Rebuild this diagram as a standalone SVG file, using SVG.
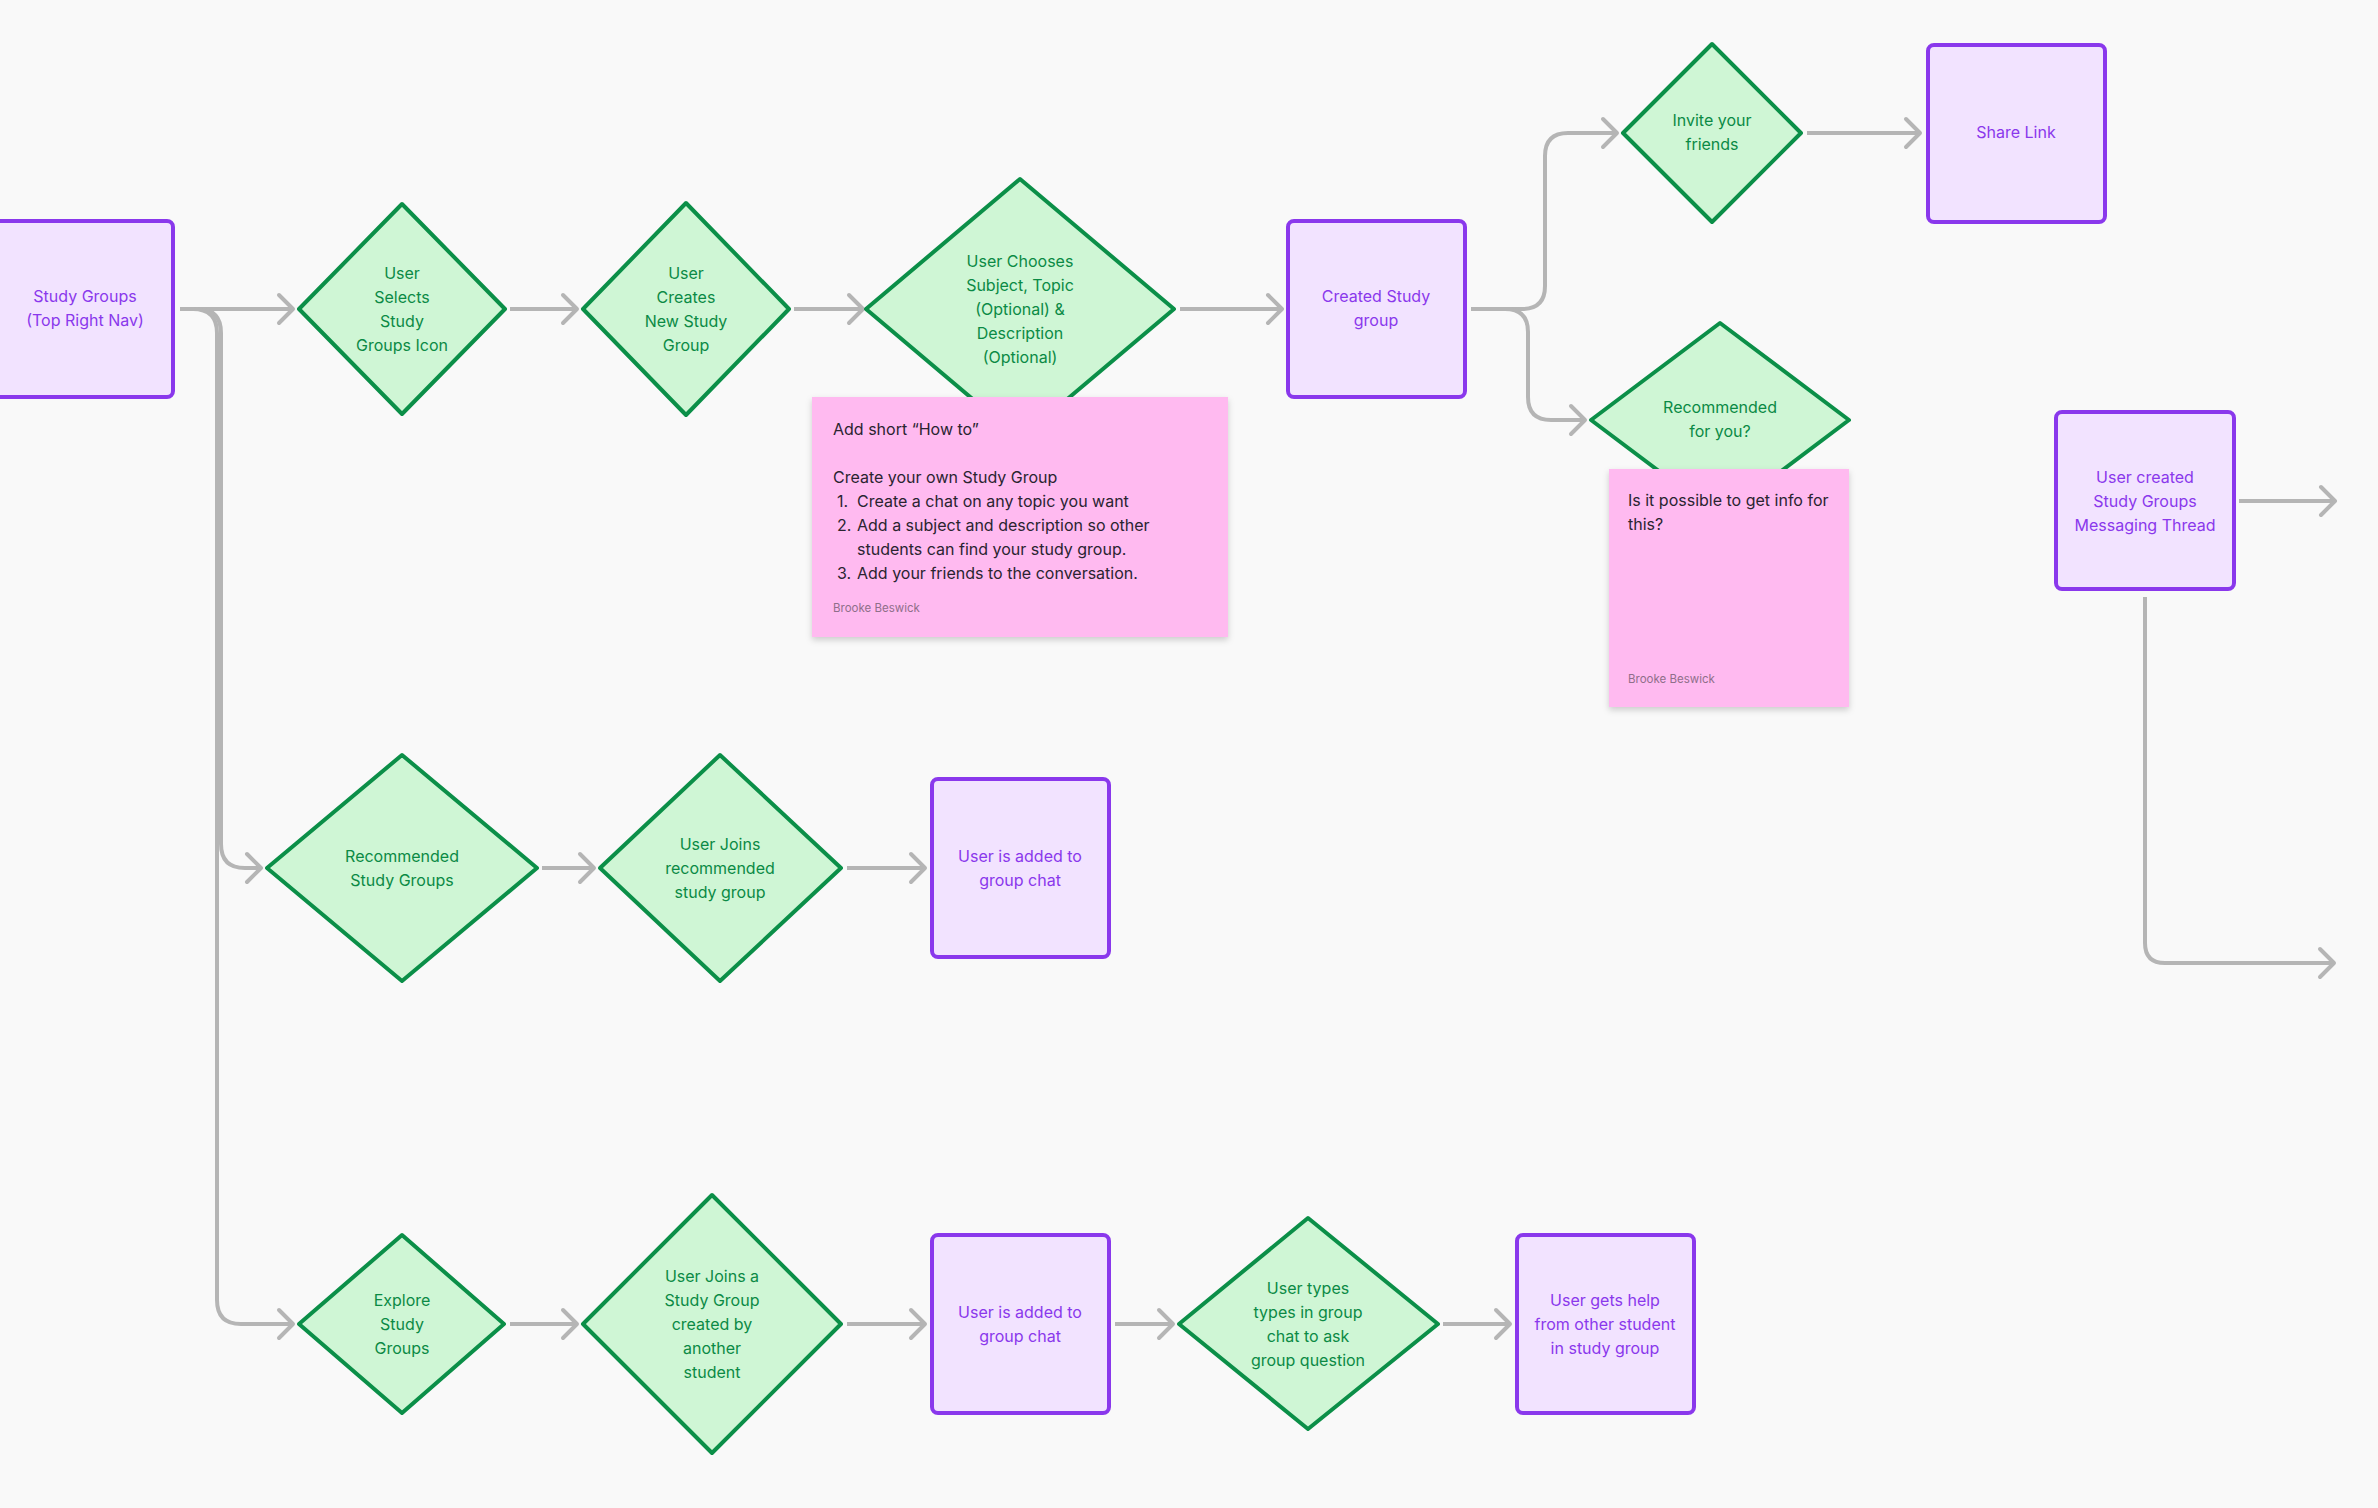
<svg xmlns="http://www.w3.org/2000/svg" width="2378" height="1508" viewBox="0 0 2378 1508">
<defs>
<style>
.bg{fill:#f9f9f9}
.box{fill:#f2e3ff;stroke:#8a38ec;stroke-width:4}
.dia{fill:#cff6d5;stroke:#0b8f48;stroke-width:4;stroke-linejoin:round}
.tp{font-family:Inter,"Noto Sans","Liberation Sans",sans-serif;font-size:16px;fill:#8a38ec;text-anchor:middle;dominant-baseline:central}
.tg{font-family:Inter,"Noto Sans","Liberation Sans",sans-serif;font-size:16px;fill:#0b8a45;text-anchor:middle;dominant-baseline:central}
.st{fill:#ffbaf0}
.sn{font-family:Inter,"Noto Sans","Liberation Sans",sans-serif;font-size:16px;fill:#2a2430;dominant-baseline:central}
.au{font-family:Inter,"Noto Sans","Liberation Sans",sans-serif;font-size:11.5px;fill:#8f6f8a;dominant-baseline:central}
.con path{fill:none;stroke:#b5b5b5;stroke-width:4;marker-end:url(#arr)}
</style>
<marker id="arr" markerUnits="userSpaceOnUse" viewBox="-20 -20 40 40" markerWidth="40" markerHeight="40" refX="0" refY="0" orient="auto">
<path d="M-14,-14 L0,0 L-14,14" fill="none" stroke="#b5b5b5" stroke-width="4" stroke-linecap="round" stroke-linejoin="round"/>
</marker>
<filter id="sh" x="-10%" y="-10%" width="120%" height="130%">
<feDropShadow dx="0" dy="3" stdDeviation="3" flood-color="#000" flood-opacity="0.18"/>
</filter>
</defs>
<rect class="bg" x="0" y="0" width="2378" height="1508"/>

<g id="connectors" class="con">
<path d="M180,309 H293"/>
<path d="M180,309 H197 Q221,309 221,333 V844 Q221,868 245,868 H261"/>
<path d="M180,309 H193 Q217,309 217,333 V1300 Q217,1324 241,1324 H293"/>
<path d="M510,309 H577"/>
<path d="M794,309 H863"/>
<path d="M1180,309 H1282"/>
<path d="M1471,309 H1522 Q1545,309 1545,286 V156 Q1545,133 1568,133 H1617"/>
<path d="M1471,309 H1505 Q1528,309 1528,332 V397 Q1528,420 1551,420 H1585"/>
<path d="M1807,133 H1920"/>
<path d="M2239,501 H2335"/>
<path d="M2145,597 V943 Q2145,963 2165,963 H2334"/>
<path d="M542,868 H594"/>
<path d="M847,868 H925"/>
<path d="M510,1324 H577"/>
<path d="M847,1324 H925"/>
<path d="M1115,1324 H1173"/>
<path d="M1443,1324 H1510"/>
</g>

<g id="n-study-groups">
<rect class="box" x="-12" y="221" width="185" height="176" rx="6"/>
<text class="tp"><tspan x="85" y="296">Study Groups</tspan><tspan x="85" y="320">(Top Right Nav)</tspan></text>
</g>

<g id="n-selects">
<polygon class="dia" points="402,204 505,309 402,414 299,309"/>
<text class="tg"><tspan x="402" y="273">User</tspan><tspan x="402" y="297">Selects</tspan><tspan x="402" y="321">Study</tspan><tspan x="402" y="345">Groups Icon</tspan></text>
</g>

<g id="n-creates">
<polygon class="dia" points="686,203 789,309 686,415 583,309"/>
<text class="tg"><tspan x="686" y="273">User</tspan><tspan x="686" y="297">Creates</tspan><tspan x="686" y="321">New Study</tspan><tspan x="686" y="345">Group</tspan></text>
</g>

<g id="n-chooses">
<polygon class="dia" points="1020,179 1174,309 1020,439 866,309"/>
<text class="tg"><tspan x="1020" y="261">User Chooses</tspan><tspan x="1020" y="285">Subject, Topic</tspan><tspan x="1020" y="309">(Optional) &amp;</tspan><tspan x="1020" y="333">Description</tspan><tspan x="1020" y="357">(Optional)</tspan></text>
</g>

<g id="note-howto">
<rect class="st" x="812" y="397" width="416" height="240" filter="url(#sh)"/>
<text class="sn" x="833" y="429">Add short “How to”</text>
<text class="sn" x="833" y="477">Create your own Study Group</text>
<text class="sn" x="837" y="501">1.</text>
<text class="sn" x="857" y="501">Create a chat on any topic you want</text>
<text class="sn" x="837" y="525">2.</text>
<text class="sn" x="857" y="525">Add a subject and description so other</text>
<text class="sn" x="857" y="549">students can find your study group.</text>
<text class="sn" x="837" y="573">3.</text>
<text class="sn" x="857" y="573">Add your friends to the conversation.</text>
<text class="au" x="833" y="608">Brooke Beswick</text>
</g>

<g id="n-created">
<rect class="box" x="1288" y="221" width="177" height="176" rx="6"/>
<text class="tp"><tspan x="1376" y="296">Created Study</tspan><tspan x="1376" y="320">group</tspan></text>
</g>

<g id="n-invite">
<polygon class="dia" points="1712,44 1801,133 1712,222 1623,133"/>
<text class="tg"><tspan x="1712" y="120">Invite your</tspan><tspan x="1712" y="144">friends</tspan></text>
</g>

<g id="n-share">
<rect class="box" x="1928" y="45" width="177" height="177" rx="6"/>
<text class="tp" x="2016" y="132">Share Link</text>
</g>

<g id="n-recommended-for-you">
<polygon class="dia" points="1720,323 1849,420 1720,517 1591,420"/>
<text class="tg"><tspan x="1720" y="407">Recommended</tspan><tspan x="1720" y="431">for you?</tspan></text>
</g>

<g id="note-info">
<rect class="st" x="1609" y="469" width="240" height="238" filter="url(#sh)"/>
<text class="sn" x="1628" y="500">Is it possible to get info for</text>
<text class="sn" x="1628" y="524">this?</text>
<text class="au" x="1628" y="679">Brooke Beswick</text>
</g>

<g id="n-thread">
<rect class="box" x="2056" y="412" width="178" height="177" rx="6"/>
<text class="tp"><tspan x="2145" y="477">User created</tspan><tspan x="2145" y="501">Study Groups</tspan><tspan x="2145" y="525">Messaging Thread</tspan></text>
</g>

<g id="n-recommended">
<polygon class="dia" points="402,755 537,868 402,981 267,868"/>
<text class="tg"><tspan x="402" y="856">Recommended</tspan><tspan x="402" y="880">Study Groups</tspan></text>
</g>

<g id="n-joins-recommended">
<polygon class="dia" points="720,755 841,868 720,981 600,868"/>
<text class="tg"><tspan x="720" y="844">User Joins</tspan><tspan x="720" y="868">recommended</tspan><tspan x="720" y="892">study group</tspan></text>
</g>

<g id="n-added-1">
<rect class="box" x="932" y="779" width="177" height="178" rx="6"/>
<text class="tp"><tspan x="1020" y="856">User is added to</tspan><tspan x="1020" y="880">group chat</tspan></text>
</g>

<g id="n-explore">
<polygon class="dia" points="402,1235 504,1324 402,1413 299,1324"/>
<text class="tg"><tspan x="402" y="1300">Explore</tspan><tspan x="402" y="1324">Study</tspan><tspan x="402" y="1348">Groups</tspan></text>
</g>

<g id="n-joins-other">
<polygon class="dia" points="712,1195 841,1324 712,1453 583,1324"/>
<text class="tg"><tspan x="712" y="1276">User Joins a</tspan><tspan x="712" y="1300">Study Group</tspan><tspan x="712" y="1324">created by</tspan><tspan x="712" y="1348">another</tspan><tspan x="712" y="1372">student</tspan></text>
</g>

<g id="n-added-2">
<rect class="box" x="932" y="1235" width="177" height="178" rx="6"/>
<text class="tp"><tspan x="1020" y="1312">User is added to</tspan><tspan x="1020" y="1336">group chat</tspan></text>
</g>

<g id="n-types">
<polygon class="dia" points="1308,1218 1438,1324 1308,1429 1179,1324"/>
<text class="tg"><tspan x="1308" y="1288">User types</tspan><tspan x="1308" y="1312">types in group</tspan><tspan x="1308" y="1336">chat to ask</tspan><tspan x="1308" y="1360">group question</tspan></text>
</g>

<g id="n-help">
<rect class="box" x="1517" y="1235" width="177" height="178" rx="6"/>
<text class="tp"><tspan x="1605" y="1300">User gets help</tspan><tspan x="1605" y="1324">from other student</tspan><tspan x="1605" y="1348">in study group</tspan></text>
</g>
</svg>
